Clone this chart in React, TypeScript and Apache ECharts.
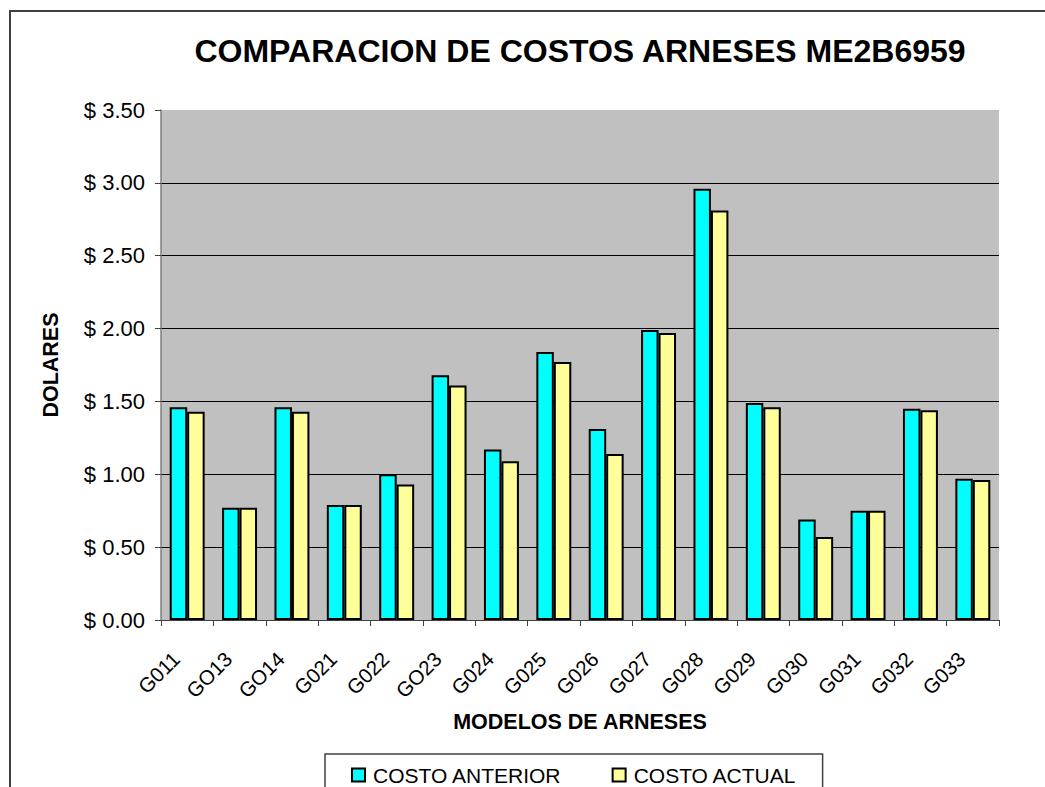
import React, { useEffect, useRef } from "react";
import * as echarts from "echarts";

const categories = ["G011", "GO13", "GO14", "G021", "G022", "GO23", "G024", "G025", "G026", "G027", "G028", "G029", "G030", "G031", "G032", "G033"];
const costoAnterior = [1.46, 0.77, 1.46, 0.79, 1.0, 1.68, 1.17, 1.84, 1.31, 1.99, 2.96, 1.49, 0.69, 0.75, 1.45, 0.97];
const costoActual = [1.43, 0.77, 1.43, 0.79, 0.93, 1.61, 1.09, 1.77, 1.14, 1.97, 2.81, 1.46, 0.57, 0.75, 1.44, 0.96];
const seriesNames = ["COSTO ANTERIOR", "COSTO ACTUAL"];
const titleText = "COMPARACION DE COSTOS ARNESES ME2B6959";
const xAxisName = "MODELOS DE ARNESES";
const yAxisName = "DOLARES";

const FONT = "'Liberation Sans', Arial, sans-serif";

export default function App() {
  const ref = useRef<HTMLDivElement>(null);
  useEffect(() => {
    if (!ref.current) return;
    const chart = echarts.init(ref.current, null, { renderer: "svg" });
    chart.setOption({
      animation: false,
      backgroundColor: "#ffffff",
      textStyle: { fontFamily: FONT },
      title: {
        text: titleText,
        left: 580,
        textAlign: "center",
        top: 35,
        padding: 0,
        textStyle: { fontFamily: FONT, fontSize: 32, fontWeight: "bold", color: "#000" },
      },
      graphic: [
        {
          type: "rect",
          shape: { x: 10, y: 11, width: 1100, height: 900 },
          style: { fill: "none", stroke: "#404040", lineWidth: 2 },
          silent: true,
          z: 100,
        },
      ],
      legend: {
        left: 325,
        top: 754,
        orient: "horizontal",
        padding: [10, 26, 14, 26],
        itemGap: 50,
        itemWidth: 13,
        itemHeight: 13,
        icon: "rect",
        borderColor: "#404040",
        borderWidth: 1.5,
        borderRadius: 0,
        itemStyle: { borderColor: "#000", borderWidth: 2 },
        textStyle: { fontFamily: FONT, fontSize: 21, color: "#000", padding: [0, 0, 0, 3], lineHeight: 22 },
        data: seriesNames,
      },
      grid: {
        left: 161,
        right: 46,
        top: 110,
        bottom: 167,
        show: true,
        backgroundColor: "#c0c0c0",
        borderWidth: 0,
        containLabel: false,
      },
      xAxis: {
        type: "category",
        data: categories,
        boundaryGap: true,
        name: xAxisName,
        nameLocation: "middle",
        nameGap: 91,
        nameTextStyle: { fontFamily: FONT, fontSize: 21.5, fontWeight: "bold", color: "#000" },
        axisLine: { show: true, lineStyle: { color: "#404040", width: 1 } },
        axisTick: { show: true, alignWithLabel: false, length: 6, lineStyle: { color: "#404040" } },
        axisLabel: {
          rotate: 45,
          fontSize: 20.5,
          color: "#000",
          margin: 24,
          interval: 0,
          fontFamily: FONT,
          padding: [0, 16, 0, 0],
        },
        splitLine: { show: false },
      },
      yAxis: {
        type: "value",
        min: 0,
        max: 3.5,
        interval: 0.5,
        name: yAxisName,
        nameLocation: "middle",
        nameGap: 99,
        nameRotate: 90,
        nameTextStyle: { fontFamily: FONT, fontSize: 21.5, fontWeight: "bold", color: "#000" },
        axisLine: { show: true, lineStyle: { color: "#808080", width: 1.5 } },
        axisTick: { show: true, length: 6, lineStyle: { color: "#404040" } },
        axisLabel: {
          fontSize: 22,
          color: "#000",
          margin: 16,
          fontFamily: FONT,
          formatter: (v: number) => "$ " + v.toFixed(2),
        },
        splitLine: {
          show: true,
          lineStyle: {
            color: ["#000", "#000", "#000", "#000", "#000", "#000", "#000", "transparent"],
            width: 1,
          },
        },
      },
      series: [
        {
          name: seriesNames[0],
          type: "bar",
          data: costoAnterior,
          barGap: "0%",
          barCategoryGap: "33.3%",
          itemStyle: { color: "#00ffff", borderColor: "#000", borderWidth: 2 },
        },
        {
          name: seriesNames[1],
          type: "bar",
          data: costoActual,
          barGap: "0%",
          barCategoryGap: "33.3%",
          itemStyle: { color: "#ffff99", borderColor: "#000", borderWidth: 2 },
        },
      ],
    });
    return () => chart.dispose();
  }, []);
  return (
    <div
      ref={ref}
      style={{ position: "fixed", left: 0, top: 0, width: 1045, height: 787 }}
    />
  );
}
